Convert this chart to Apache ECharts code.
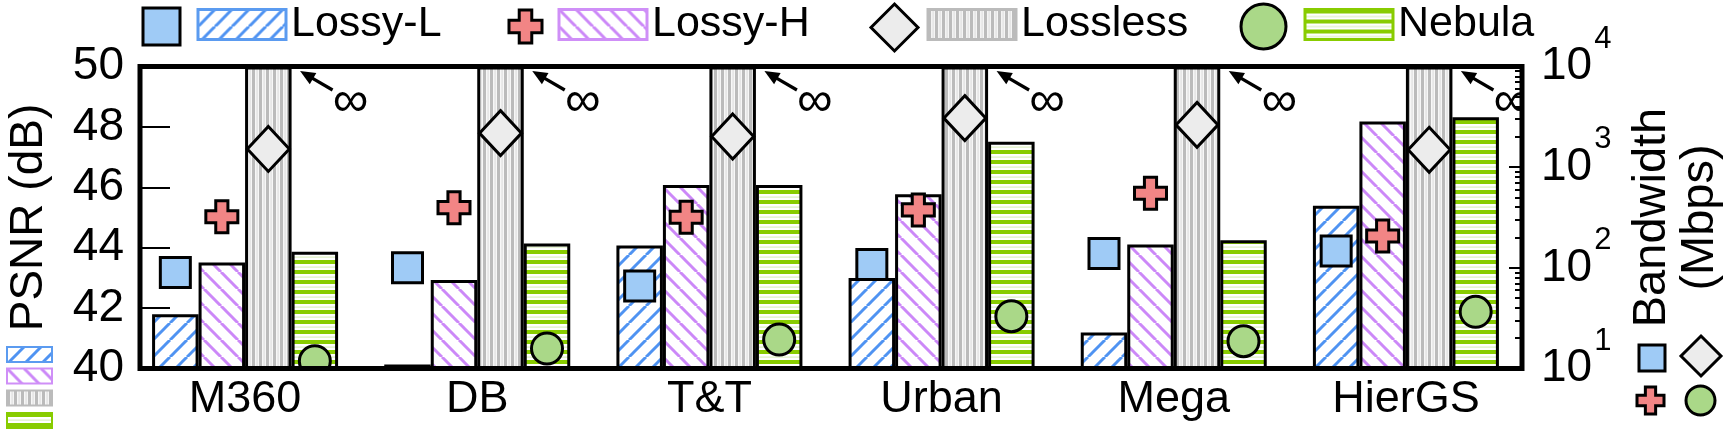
<!DOCTYPE html>
<html><head><meta charset="utf-8">
<script src="https://cdn.jsdelivr.net/npm/echarts@6/dist/echarts.min.js"></script>
<style>html,body{margin:0;padding:0;background:#fff}#c{width:1732px;height:436px}</style>
</head><body><div id="c"></div>
<script>
// ---------------- data ----------------
const categories = ['M360', 'DB', 'T&T', 'Urban', 'Mega', 'HierGS'];
const methods = ['Lossy-L', 'Lossy-H', 'Lossless', 'Nebula'];
// PSNR (dB), left axis (bars)
const psnrLossyL   = [41.80, 40.13, 44.07, 43.00, 41.19, 45.39];
const psnrLossyH   = [43.51, 42.93, 46.08, 45.77, 44.11, 48.18];
const psnrLossless = [50, 50, 50, 50, 50, 50];   // infinite PSNR, bar runs to the top of the axis
const psnrNebula   = [43.87, 44.14, 46.08, 47.51, 44.25, 48.32];
// Bandwidth (Mbps), right log axis (markers)
const bwLossyL   = [90, 100, 66, 108, 139, 147];
const bwLossyH   = [322, 396, 318, 376, 551, 207];
const bwLossless = [1518, 2178, 2014, 3070, 2630, 1486];
const bwNebula   = [11.8, 15.8, 19.4, 33.1, 18.7, 36.6];
// axis ticks
const psnrTicks = [40, 42, 44, 46, 48, 50];
const bwTicks = [10, 100, 1000, 10000];
const bwMinorTicks = [20,30,40,50,60,70,80,90,200,300,400,500,600,700,800,900,2000,3000,4000,5000,6000,7000,8000,9000];
const infinityLabel = '\u221E';

// ---------------- style ----------------
const FONT = 'Liberation Sans, Arial, Helvetica, sans-serif';
const BAR_W = 46.5;
const HATCH = ['#4f93f2', '#cc88f8', '#bbbbbb', '#88cc00'];
const SWATCH_BORDER = ['#5b9bf0', '#cf8ff7', '#bbbbbb', '#88cc00'];
const MARK_FILL = ['#9fcbf6', '#f28585', '#ececec', '#aad888'];
const MARK_KIND = ['square', 'plus', 'diamond', 'circle'];

function makePattern(k) {
  const c = document.createElement('canvas');
  let ctx;
  if (k === 0 || k === 1) {
    const s = 17; c.width = s; c.height = s; ctx = c.getContext('2d');
    ctx.fillStyle = '#fff'; ctx.fillRect(0, 0, s, s);
    ctx.strokeStyle = HATCH[k]; ctx.lineWidth = 3;
    for (const o of [-s, 0, s]) {
      ctx.beginPath();
      if (k === 0) { ctx.moveTo(o, s); ctx.lineTo(o + s, 0); }
      else { ctx.moveTo(o, 0); ctx.lineTo(o + s, s); }
      ctx.stroke();
    }
  } else if (k === 2) {
    c.width = 7; c.height = 4; ctx = c.getContext('2d');
    ctx.fillStyle = '#f7f7f7'; ctx.fillRect(0, 0, 7, 4);
    ctx.fillStyle = HATCH[2]; ctx.fillRect(0, 0, 3, 4);
    ctx.fillStyle = '#dedede'; ctx.fillRect(4.5, 0, 1.2, 4);
  } else {
    c.width = 4; c.height = 10; ctx = c.getContext('2d');
    ctx.fillStyle = '#fff'; ctx.fillRect(0, 0, 4, 10);
    ctx.fillStyle = HATCH[3]; ctx.fillRect(0, 0, 4, 4);
    ctx.fillStyle = '#dcefbf'; ctx.fillRect(0, 6.5, 4, 1.2);
  }
  return { image: c, repeat: 'repeat' };
}
const patterns = [0, 1, 2, 3].map(makePattern);

const psnrData = [psnrLossyL, psnrLossyH, psnrLossless, psnrNebula];
const bwData = [bwLossyL, bwLossyH, bwLossless, bwNebula];

const SQ = 30, PL = 32, DW = 42, DH = 45, CR = 15.5;
function plusPoints(cx, cy, S) {
  const a = S / 2, h = S * 0.19;
  return [[cx-h,cy-a],[cx+h,cy-a],[cx+h,cy-h],[cx+a,cy-h],[cx+a,cy+h],[cx+h,cy+h],
          [cx+h,cy+a],[cx-h,cy+a],[cx-h,cy+h],[cx-a,cy+h],[cx-a,cy-h],[cx-h,cy-h]];
}
function markerShape(kind, cx, cy, style) {
  if (kind === 'square') return { type: 'rect', shape: { x: cx - SQ/2, y: cy - SQ/2, width: SQ, height: SQ }, style };
  if (kind === 'plus') return { type: 'polygon', shape: { points: plusPoints(cx, cy, PL) }, style };
  if (kind === 'diamond') return { type: 'polygon', shape: { points: [[cx, cy-DH/2],[cx+DW/2, cy],[cx, cy+DH/2],[cx-DW/2, cy]] }, style };
  return { type: 'circle', shape: { cx, cy, r: CR }, style };
}
const PLUS_ICON = 'path://M31,0H69V31H100V69H69V100H31V69H0V31H31Z';
const ICONS = ['rect', PLUS_ICON, 'diamond', 'circle'];
const bwName = m => m + ' BW';

const series = [];
methods.forEach((m, k) => {
  series.push({
    type: 'bar', name: m, yAxisIndex: 0, data: psnrData[k],
    barWidth: BAR_W, barGap: '0%', z: 2,
    itemStyle: { color: patterns[k], borderColor: '#000', borderWidth: 3 }
  });
});
// infinity annotations next to the Lossless bars
series.push({
  type: 'custom', name: 'inf', yAxisIndex: 0, clip: true, z: 4, silent: true,
  data: psnrLossless.map((v, i) => [i, v]),
  encode: { x: 0, y: 1 },
  renderItem: (params, api) => {
    const p = api.coord([api.value(0), api.value(1)]);
    const rx = p[0] + BAR_W, ty = p[1];
    const tip = [rx + 8.5, ty + 4.5], tail = [rx + 41, ty + 23.5];
    const dx = tip[0] - tail[0], dy = tip[1] - tail[1], L = Math.hypot(dx, dy);
    const ux = dx / L, uy = dy / L, nx = -uy, ny = ux;
    const hl = 15, hw = 6.5;
    const bx = tip[0] - ux * hl, by = tip[1] - uy * hl;
    return { type: 'group', children: [
      { type: 'line', shape: { x1: tail[0], y1: tail[1], x2: bx + ux * 2, y2: by + uy * 2 }, style: { stroke: '#000', lineWidth: 3.2 } },
      { type: 'polygon', shape: { points: [tip, [bx + nx * hw, by + ny * hw], [bx - nx * hw, by - ny * hw]] }, style: { fill: '#000' } },
      { type: 'text', style: { text: infinityLabel, x: rx + 59, y: ty + 36, fontSize: 50, fontFamily: FONT, fill: '#000', align: 'center', verticalAlign: 'middle' } }
    ]};
  }
});
methods.forEach((m, k) => {
  series.push({
    type: 'custom', name: bwName(m), yAxisIndex: 1, clip: true, z: 5,
    itemStyle: { color: MARK_FILL[k], borderColor: '#000', borderWidth: 3 },
    data: bwData[k].map((v, i) => [i, v]),
    encode: { x: 0, y: 1 },
    renderItem: (params, api) => {
      const p = api.coord([api.value(0), api.value(1)]);
      const cx = p[0] + (k - 1.5) * BAR_W;
      return markerShape(MARK_KIND[k], cx, p[1], { fill: MARK_FILL[k], stroke: '#000', lineWidth: 3 });
    }
  });
});

// ---------------- legends ----------------
const legends = [];
const topMarker = [
  { left: 141.5, top: 6.5, w: 37, h: 37 },
  { left: 507.5, top: 8.5, w: 33, h: 33 },
  { left: 869.5, top: 2.5, w: 47, h: 47 },
  { left: 1239.5, top: 2.5, w: 45, h: 45 }
];
const topSwatchLeft = [196.5, 557.5, 926.5, 1303.5];
methods.forEach((m, k) => {
  const mk = topMarker[k];
  legends.push({
    left: mk.left, top: mk.top, padding: 0, itemWidth: mk.w, itemHeight: mk.h, selectedMode: false,
    formatter: () => '', textStyle: { fontSize: 10 },
    data: [{ name: bwName(m), icon: ICONS[k], itemStyle: { color: MARK_FILL[k], borderColor: '#000', borderWidth: 3 } }]
  });
  legends.push({
    left: topSwatchLeft[k], top: 3, padding: 0, itemWidth: 88, itemHeight: 30, selectedMode: false,
    textStyle: { fontSize: 43, color: '#000', fontFamily: FONT },
    data: [{ name: m, icon: 'rect', itemStyle: { color: patterns[k], borderColor: SWATCH_BORDER[k], borderWidth: 3 } }]
  });
});
// small swatch key under the left axis title
const leftKeyTop = [346, 367.5, 389.5, 412];
methods.forEach((m, k) => {
  legends.push({
    left: 6, top: leftKeyTop[k], padding: 0, itemWidth: 45, itemHeight: 15, selectedMode: false,
    formatter: () => '', textStyle: { fontSize: 8 },
    data: [{ name: m, icon: 'rect', itemStyle: { color: patterns[k], borderColor: SWATCH_BORDER[k], borderWidth: 2 } }]
  });
});
// marker key under the right axis title
const rightKey = [
  { left: 1637.5, top: 343.5, w: 26, h: 26 },
  { left: 1635.5, top: 385.5, w: 27, h: 27 },
  { left: 1679.5, top: 334.5, w: 40, h: 40 },
  { left: 1684.5, top: 384.5, w: 29, h: 29 }
];
methods.forEach((m, k) => {
  const r = rightKey[k];
  legends.push({
    left: r.left, top: r.top, padding: 0, itemWidth: r.w, itemHeight: r.h, selectedMode: false,
    formatter: () => '', textStyle: { fontSize: 8 },
    data: [{ name: bwName(m), icon: ICONS[k], itemStyle: { color: MARK_FILL[k], borderColor: '#000', borderWidth: 3 } }]
  });
});

const chart = echarts.init(document.getElementById('c'), null, { renderer: 'canvas' });
chart.setOption({
  animation: false,
  backgroundColor: '#fff',
  textStyle: { fontFamily: FONT, color: '#000' },
  grid: { left: 129, right: 210, top: 66.5, bottom: 67.5, outerBoundsMode: 'none', containLabel: false },
  legend: legends,
  xAxis: {
    type: 'category', data: categories,
    axisLine: { show: false }, axisTick: { show: false }, splitLine: { show: false },
    axisLabel: { fontSize: 45, color: '#000', fontFamily: FONT, margin: 9 }
  },
  yAxis: [
    {
      type: 'value', position: 'left', offset: -11,
      min: psnrTicks[0], max: psnrTicks[psnrTicks.length - 1], interval: psnrTicks[1] - psnrTicks[0],
      axisLine: { show: false }, splitLine: { show: false },
      axisTick: { show: true, inside: true, length: 30, lineStyle: { color: '#000', width: 2 } },
      axisLabel: { fontSize: 46, color: '#000', fontFamily: FONT, margin: 16, padding: [0, 0, 6, 0] },
      name: 'PSNR (dB)', nameLocation: 'middle', nameRotate: 90, nameGap: 88,
      nameTextStyle: { fontSize: 46, color: '#000', fontFamily: FONT }
    },
    {
      type: 'log', logBase: 10, position: 'right',
      min: bwTicks[0], max: bwTicks[bwTicks.length - 1],
      axisLine: { show: false }, splitLine: { show: false },
      axisTick: { show: true, inside: true, length: 13, lineStyle: { color: '#000', width: 2 } },
      axisLabel: {
        margin: 19, color: '#000',
        formatter: v => '{b|10}{s|' + Math.round(Math.log10(v)) + '}',
        rich: {
          b: { fontSize: 46, lineHeight: 86, fontFamily: FONT, color: '#000', verticalAlign: 'middle' },
          s: { fontSize: 31, lineHeight: 31, fontFamily: FONT, color: '#000', verticalAlign: 'top', padding: [0, 0, 0, 2] }
        }
      },
      name: 'Bandwidth\n(Mbps)', nameLocation: 'middle', nameRotate: 90, nameGap: 106,
      nameTextStyle: { fontSize: 47, lineHeight: 48, color: '#000', fontFamily: FONT }
    },
    {
      type: 'log', logBase: 10, position: 'right',
      min: bwTicks[0], max: bwTicks[bwTicks.length - 1],
      axisLine: { show: false }, splitLine: { show: false }, axisLabel: { show: false },
      axisTick: { show: true, inside: true, length: 7, customValues: bwMinorTicks, lineStyle: { color: '#000', width: 2 } }
    }
  ],
  series,
  graphic: [{
    type: 'rect', z: 100, silent: true,
    shape: { x: 140, y: 66.5, width: 1382, height: 302 },
    style: { fill: 'none', stroke: '#000', lineWidth: 5 }
  }]
});
</script></body></html>
